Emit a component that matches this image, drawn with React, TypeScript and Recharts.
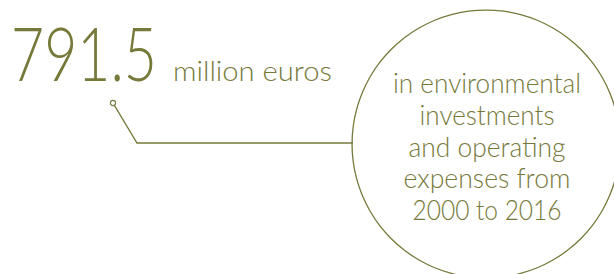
import React from 'react';
import { PieChart, Pie, Cell, Customized } from 'recharts';

const headlineValue = '791.5';
const unitLabel = 'million euros';
const descriptionLines = ['in environmental', 'investments', 'and operating', 'expenses from', '2000 to 2016'];
const ringData = [{ name: 'total', value: 791.5 }];

const OLIVE = '#76793a';
const FONT = "Lato, 'Open Sans', 'DejaVu Sans', sans-serif";

const lineWidths = [188, 135, 157, 167, 149];

const Overlay = () => (
  <g>
    <text transform="translate(11,81) scale(1,1.33)" x={0} y={0} fontFamily={FONT} fontWeight={300} fontSize={57}
      fill={OLIVE} textLength={146} lengthAdjust="spacingAndGlyphs">{headlineValue}</text>
    <text x={173} y={81} fontFamily={FONT} fontWeight={300} fontSize={28} fill={OLIVE}
      textLength={159} lengthAdjust="spacingAndGlyphs">{unitLabel}</text>
    <circle cx={113} cy={103} r={2.6} fill="#fff" stroke={OLIVE} strokeWidth={1.1} />
    <polyline points="114.4,105.4 137,143 353,143" fill="none" stroke={OLIVE} strokeWidth={1.3} />
    {descriptionLines.map((l, i) => (
      <text key={l} x={487} y={93 + i * 31.8} textAnchor="middle" fontFamily={FONT} fontWeight={300}
        fontSize={28} fill={OLIVE} textLength={lineWidths[i]} lengthAdjust="spacingAndGlyphs">{l}</text>
    ))}
  </g>
);

export default function App() {
  return (
    <div style={{ position: 'absolute', left: 0, top: 0, width: 614, height: 274, background: '#fff' }}>
      <PieChart width={614} height={274} margin={{ top: 0, right: 0, bottom: 0, left: 0 }}>
        <Pie data={ringData} dataKey="value" nameKey="name" cx={486} cy={144}
          innerRadius={133.3} outerRadius={134.6} startAngle={90} endAngle={-270}
          stroke="none" isAnimationActive={false}>
          {ringData.map((d) => <Cell key={d.name} fill={OLIVE} />)}
        </Pie>
        <Customized component={Overlay} />
      </PieChart>
    </div>
  );
}
